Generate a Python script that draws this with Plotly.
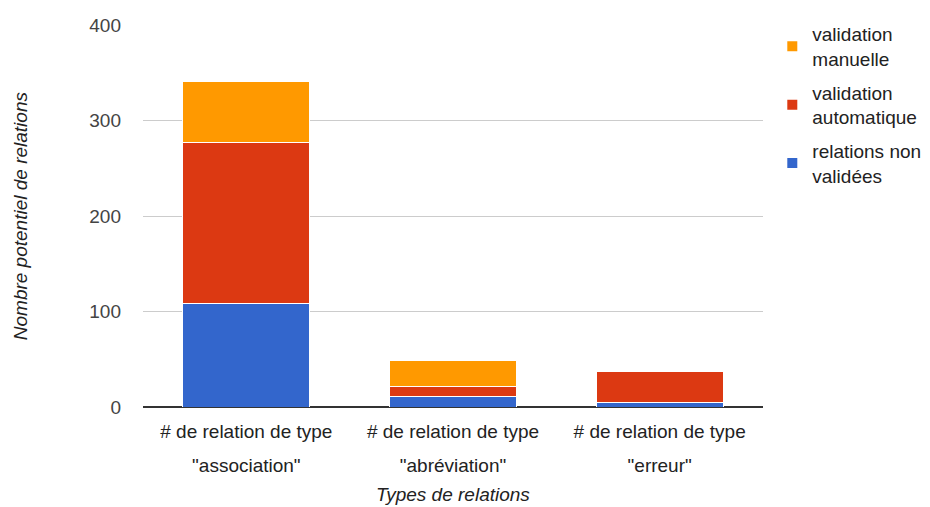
import plotly.graph_objects as go

categories = ["association", "abréviation", "erreur"]
tick_line1 = ["# de relation de type", "# de relation de type", "# de relation de type"]
tick_line2 = ['"association"', '"abréviation"', '"erreur"']

non_validees = [108, 11, 5]
validation_auto = [169, 10, 32]
validation_manuelle = [64, 28, 0]

series_names = ["relations non<br>validées", "validation<br>automatique", "validation<br>manuelle"]
colors = ["#3366cc", "#dc3912", "#ff9900"]

FONT = "Liberation Sans, Arial, sans-serif"

fig = go.Figure()
for i, (name, vals, col) in enumerate(zip(series_names, [non_validees, validation_auto, validation_manuelle], colors)):
    fig.add_trace(go.Bar(
        x=categories, y=vals, name=name, legendgroup=f"g{i}", legendrank=1000 - i,
        marker=dict(color=col, line=dict(color="white", width=1)),
    ))

fig.update_layout(
    width=922, height=499,
    barmode="stack", bargap=0.385,
    plot_bgcolor="white", paper_bgcolor="white",
    margin=dict(l=135, r=167, t=17, b=100, autoexpand=False),
    font=dict(family=FONT, size=19, color="#222222"),
    showlegend=True,
    legend=dict(
        x=1.015, y=1.026, xanchor="left", yanchor="top", xref="paper",
        traceorder="grouped", font=dict(size=19, color="#222222"),
        tracegroupgap=6, itemsizing="constant",
    ),
    xaxis=dict(
        type="category", range=[-0.5, 2.5], automargin=False,
        tickmode="array", tickvals=categories, ticktext=tick_line1,
        showgrid=False, ticks="", ticklabelstandoff=11,
        tickfont=dict(size=19, color="#222222"),
        showline=False,
    ),
    xaxis2=dict(
        overlaying="x", anchor="y", side="bottom", automargin=False,
        range=[-0.5, 2.5], tickmode="array", tickvals=[0, 1, 2], ticktext=tick_line2,
        showgrid=False, zeroline=False, showline=False, ticks="",
        ticklabelstandoff=45, tickfont=dict(size=19, color="#222222"),
    ),
    yaxis=dict(
        range=[0, 400], dtick=100, tick0=0, automargin=False,
        gridcolor="#cccccc", gridwidth=1,
        zeroline=True, zerolinecolor="#333333", zerolinewidth=2,
        ticks="", ticklabelstandoff=21,
        tickfont=dict(size=19, color="#444444"),
    ),
    annotations=[
        dict(text="<i>Types de relations</i>", xref="paper", yref="paper",
             x=0.5, y=-0.230, xanchor="center", yanchor="middle", showarrow=False,
             font=dict(size=19, color="#222222")),
        dict(text="<i>Nombre potentiel de relations</i>", xref="paper", yref="paper",
             x=-0.198, y=0.5, xanchor="center", yanchor="middle", showarrow=False,
             textangle=-90, font=dict(size=19, color="#222222")),
    ],
)
fig.add_trace(go.Scatter(x=[0], y=[None], xaxis="x2", showlegend=False, hoverinfo="skip"))

fig.write_html("out.html")
